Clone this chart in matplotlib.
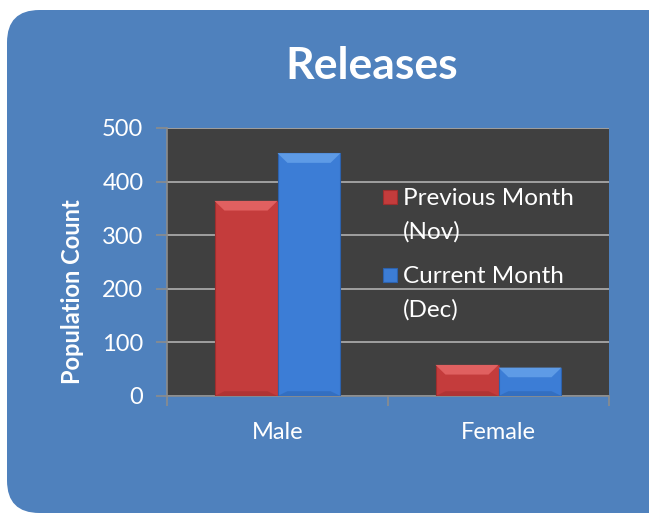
import matplotlib
matplotlib.use("Agg")
import matplotlib.pyplot as plt
from matplotlib.patches import FancyBboxPatch, Polygon, Rectangle
import numpy as np

plt.rcParams['font.family'] = ['Lato', 'DejaVu Sans']

# dados
categorias = ["Male", "Female"]
anterior = [364, 58]     # Previous Month (Nov)
atual = [453, 53]        # Current Month (Dec)
series = ["Previous Month\n(Nov)", "Current Month\n(Dec)"]
y_ticks = [0, 100, 200, 300, 400, 500]

PAINEL = "#4F81BD"
FUNDO = "#404040"
GRADE = "#A0A0A0"
cores = [("#C43C3C", "#E06060", "#9E2E2E"), ("#3C7DD6", "#5E9BE6", "#2C62AE")]

W, H = 649, 514
fig = plt.figure(figsize=(W / 100, H / 100), dpi=100)
fig.patch.set_facecolor("white")

# painel azul arredondado (lado direito sai da folha)
fig.patches.append(FancyBboxPatch((7 / W, 1 / H), 700 / W, (H - 11) / H,
                                  boxstyle="round,pad=0,rounding_size=0.05",
                                  transform=fig.transFigure, facecolor=PAINEL,
                                  edgecolor="none", zorder=-1,
                                  mutation_aspect=W / H))

ax = fig.add_axes([167 / W, 1 - 396 / H, (609 - 167) / W, (396 - 128) / H])
ax.set_zorder(1)
ax.set_facecolor(FUNDO)
x = np.arange(len(categorias))
bw = 0.285
ax.set_xlim(-0.5, 1.5)
ax.set_ylim(0, 500)

for k, vals in enumerate([anterior, atual]):
    base, claro, escuro = cores[k]
    bars = ax.bar(x + (k - 0.5) * bw, vals, bw, color=base, edgecolor=escuro,
                  linewidth=0.8, zorder=3)
    for b in bars:
        x0, y0 = b.get_x(), b.get_y()
        x1, y1 = x0 + b.get_width(), y0 + b.get_height()
        d, h = 0.045, min(18, (y1 - y0) * 0.35)
        ax.add_patch(Polygon([(x0, y1), (x1, y1), (x1 - d, y1 - h), (x0 + d, y1 - h)],
                             closed=True, facecolor=claro, edgecolor="none", zorder=4))
        ax.add_patch(Polygon([(x0, y0), (x1, y0), (x1 - d, y0 + h * 0.5), (x0 + d, y0 + h * 0.5)],
                             closed=True, facecolor=escuro, edgecolor="none", zorder=4,
                             alpha=0.5))

ax.set_yticks(y_ticks)
ax.set_yticklabels([str(v) for v in y_ticks], color="white", fontsize=17)
ax.yaxis.grid(True, color=GRADE, lw=1.4, zorder=1)
ax.set_axisbelow(True)
ax.tick_params(axis="y", length=8, width=1.2, color="#8C8C8C", pad=9)

ax.set_xticks(x)
ax.set_xticklabels(categorias, color="white", fontsize=17)
ax.set_xticks([-0.5, 0.5, 1.5], minor=True)
ax.tick_params(axis="x", which="major", length=0, pad=19)
ax.tick_params(axis="x", which="minor", length=7, width=1.2, color="#8C8C8C")

for s in ["top", "right"]:
    ax.spines[s].set_visible(False)
for s in ["left", "bottom"]:
    ax.spines[s].set_color("#8C8C8C")
    ax.spines[s].set_linewidth(1.2)

fig.text(73 / W, 1 - 292 / H, "Population Count", color="white", fontsize=17,
         fontweight="bold", rotation=90, ha="center", va="center")

fig.text(372 / W, 1 - 66 / H, "Releases", color="white", fontsize=32,
         fontweight="bold", ha="center", va="center")

# legenda manual
for k, lab in enumerate(series):
    ytop = 1 - (197 + k * 78) / H
    fig.patches.append(Rectangle((383 / W, ytop - 7 / H), 14 / W, 14 / H,
                                 transform=fig.transFigure, facecolor=cores[k][0],
                                 edgecolor=cores[k][2], lw=0.8, zorder=5))
    fig.text(403 / W, ytop + 9 / H, lab, color="white", fontsize=17.5, ha="left",
             va="top", linespacing=1.7, zorder=6)

fig.savefig("out.png", dpi=100, facecolor="white")
